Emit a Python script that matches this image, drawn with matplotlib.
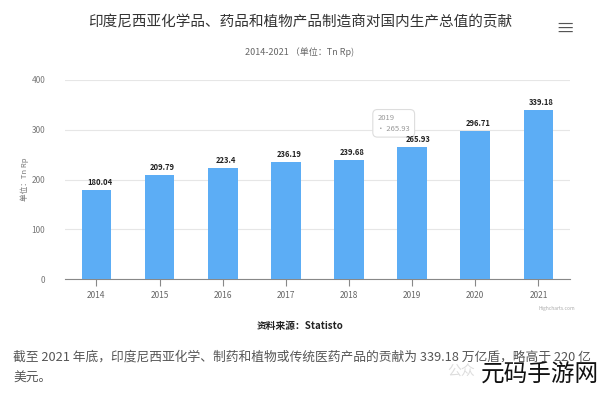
import matplotlib.pyplot as plt
import numpy as np

plt.rcParams['font.family'] = ['Noto Sans CJK SC', 'DejaVu Sans']

years = ['2014', '2015', '2016', '2017', '2018', '2019', '2020', '2021']
values = [180.04, 209.79, 223.4, 236.19, 239.68, 265.93, 296.71, 339.18]
labels = ['180.04', '209.79', '223.4', '236.19', '239.68', '265.93', '296.71', '339.18']
yticks = [0, 100, 200, 300, 400]

fig = plt.figure(figsize=(6, 3.96), dpi=100)
ax = fig.add_axes([0.108, 0.295, 0.842, 0.503])

x = np.arange(len(years))
ax.bar(x, values, width=0.47, color='#5cadf5', zorder=3)
for xi, v, lab in zip(x, values, labels):
    dx = 0.1 if lab == '265.93' else 0.05
    ax.text(xi + dx, v + 6, lab, ha='center', va='bottom', fontsize=5.5,
            fontweight='bold', color='#222222', zorder=6)

ax.set_xlim(-0.5, len(years) - 0.5)
ax.set_ylim(0, 400)
ax.set_yticks(yticks)
ax.set_xticks(x)
ax.set_xticklabels(years)
ax.grid(axis='y', color='#e6e6e6', linewidth=0.8, zorder=0)
for s in ['top', 'right', 'left']:
    ax.spines[s].set_visible(False)
ax.spines['bottom'].set_color('#888888')
ax.tick_params(axis='y', length=0, labelsize=6, labelcolor='#777777', pad=14)
ax.tick_params(axis='x', length=5, color='#888888', labelsize=6, labelcolor='#666666')
ax.set_ylabel('单位：Tn Rp', fontsize=5.5, color='#777777', labelpad=2)

# tooltip at 2019
ax.text(4.45, 313, '2019\n• 265.93', fontsize=5.5, color='#999999',
        va='center', ha='left', linespacing=1.4,
        bbox=dict(boxstyle='round,pad=0.6', fc='white', ec='#dddddd', lw=0.8),
        zorder=5)

fig.text(0.5, 0.944, '印度尼西亚化学品、药品和植物产品制造商对国内生产总值的贡献',
         ha='center', va='center', fontsize=10.5, color='#333333')
fig.text(0.5, 0.868, '2014-2021 （单位：Tn Rp)', ha='center', va='center',
         fontsize=6.5, color='#666666')
fig.text(0.942, 0.925, '≡', ha='center', va='center', fontsize=14, color='#555555')
fig.text(0.958, 0.222, 'Highcharts.com', ha='right', va='center', fontsize=3.5,
         color='#aaaaaa')
fig.text(0.5, 0.178, '资料来源：Statisto', ha='center', va='center', fontsize=7,
         fontweight='bold', color='#222222')
fig.text(0.022, 0.098, '截至 2021 年底，印度尼西亚化学、制药和植物或传统医药产品的贡献为 339.18 万亿盾，略高于 220 亿',
         ha='left', va='center', fontsize=9.2, color='#555555')
fig.text(0.022, 0.045, '美元。', ha='left', va='center', fontsize=9.2, color='#555555')
fig.text(0.745, 0.062, '公众', ha='left', va='center', fontsize=10, color='#dddddd')
fig.text(0.998, 0.052, '元码手游网', ha='right', va='center', fontsize=17,
         color='#111111', zorder=10,
         bbox=dict(boxstyle='square,pad=0.1', fc='white', ec='none'))

fig.savefig('out.png', dpi=100, facecolor='white')
